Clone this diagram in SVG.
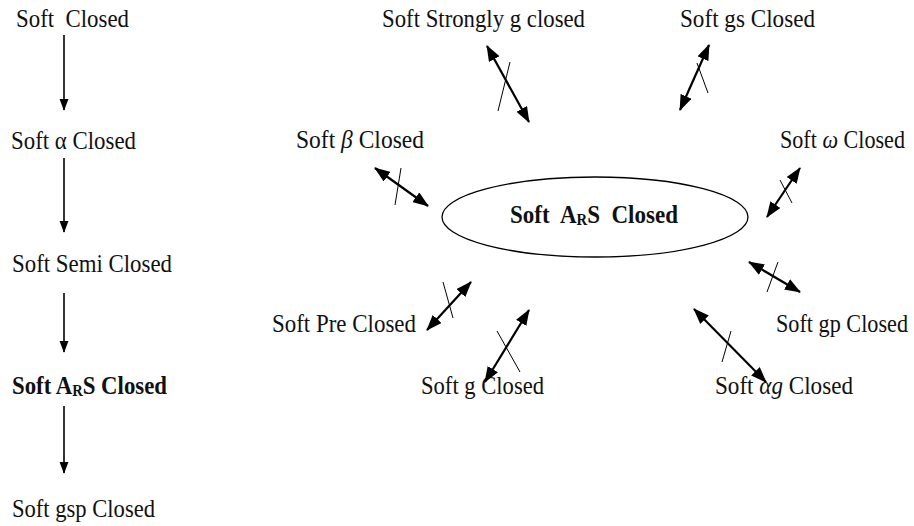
<svg xmlns="http://www.w3.org/2000/svg" width="914" height="526" viewBox="0 0 914 526">
<style>
text{font-family:'Liberation Serif','Times New Roman',serif;font-size:25px;fill:#111}
.b{font-weight:bold}
.m{font-style:italic}
.sub{font-size:16px}
.ar{stroke:#000;stroke-width:2.2;fill:none}
.dn{stroke:#000;stroke-width:1.6;fill:none}
.tk{stroke:#000;stroke-width:1;fill:none}
</style>
<defs>
<marker id="h" markerUnits="userSpaceOnUse" markerWidth="16" markerHeight="12" viewBox="0 0 16 12" refX="15" refY="6" orient="auto-start-reverse">
<path d="M0,0 L16,6 L0,12 z" fill="#000"/>
</marker>
<marker id="d" markerUnits="userSpaceOnUse" markerWidth="12" markerHeight="12" viewBox="0 0 16 12" refX="15" refY="6" orient="auto">
<path d="M0,0 L16,6 L0,12 z" fill="#000"/>
</marker>
</defs>

<g id="n-soft-closed"><text x="16" y="27" xml:space="preserve" textLength="113" lengthAdjust="spacingAndGlyphs">Soft  Closed</text></g>
<g id="n-soft-alpha"><text x="11" y="149" textLength="125" lengthAdjust="spacingAndGlyphs">Soft α Closed</text></g>
<g id="n-soft-semi"><text x="12" y="272" textLength="160" lengthAdjust="spacingAndGlyphs">Soft Semi Closed</text></g>
<g id="n-soft-ars-left"><text x="12" y="394" class="b" textLength="155" lengthAdjust="spacingAndGlyphs">Soft A<tspan class="sub" dy="2">R</tspan><tspan dy="-2">S Closed</tspan></text></g>
<g id="n-soft-gsp"><text x="12" y="517" textLength="143" lengthAdjust="spacingAndGlyphs">Soft gsp Closed</text></g>

<g id="n-center">
<ellipse cx="595" cy="217" rx="153" ry="40" fill="none" stroke="#000" stroke-width="1.3"/>
<text x="510" y="223" class="b" xml:space="preserve" textLength="168" lengthAdjust="spacingAndGlyphs">Soft  A<tspan class="sub" dy="2">R</tspan><tspan dy="-2">S  Closed</tspan></text>
</g>

<g id="n-strongly"><text x="382" y="27" textLength="203" lengthAdjust="spacingAndGlyphs">Soft Strongly g closed</text></g>
<g id="n-gs"><text x="680" y="27" textLength="135" lengthAdjust="spacingAndGlyphs">Soft gs Closed</text></g>
<g id="n-beta"><text x="296" y="148" textLength="128" lengthAdjust="spacingAndGlyphs">Soft <tspan class="m">β</tspan> Closed</text></g>
<g id="n-omega"><text x="780" y="148" textLength="125" lengthAdjust="spacingAndGlyphs">Soft <tspan class="m">ω</tspan> Closed</text></g>
<g id="n-pre"><text x="272" y="332" textLength="144" lengthAdjust="spacingAndGlyphs">Soft Pre Closed</text></g>
<g id="n-gp"><text x="776" y="332" textLength="132" lengthAdjust="spacingAndGlyphs">Soft gp Closed</text></g>
<g id="n-g"><text x="421" y="394" textLength="123" lengthAdjust="spacingAndGlyphs">Soft g Closed</text></g>
<g id="n-alphag"><text x="715" y="394" textLength="138" lengthAdjust="spacingAndGlyphs">Soft <tspan class="m">αg</tspan> Closed</text></g>

<g id="connectors">
<line class="dn" x1="64" y1="35" x2="64" y2="110" marker-end="url(#d)"/>
<line class="dn" x1="64" y1="158" x2="64" y2="232" marker-end="url(#d)"/>
<line class="dn" x1="64" y1="293" x2="64" y2="352" marker-end="url(#d)"/>
<line class="dn" x1="64" y1="406" x2="64" y2="473" marker-end="url(#d)"/>

<line class="ar" x1="487" y1="46" x2="529" y2="122" marker-start="url(#h)" marker-end="url(#h)"/>
<line class="tk" x1="510" y1="62" x2="498" y2="111"/>

<line class="ar" x1="680" y1="110" x2="709" y2="45" marker-start="url(#h)" marker-end="url(#h)"/>
<line class="tk" x1="697" y1="63" x2="708" y2="93"/>

<line class="ar" x1="375" y1="168" x2="428" y2="206" marker-start="url(#h)" marker-end="url(#h)"/>
<line class="tk" x1="401" y1="168" x2="395" y2="205"/>

<line class="ar" x1="767" y1="217" x2="800" y2="168" marker-start="url(#h)" marker-end="url(#h)"/>
<line class="tk" x1="780" y1="180" x2="792" y2="203"/>

<line class="ar" x1="427" y1="330" x2="471" y2="282" marker-start="url(#h)" marker-end="url(#h)"/>
<line class="tk" x1="443" y1="282" x2="453" y2="318"/>

<line class="ar" x1="485" y1="382" x2="529" y2="310" marker-start="url(#h)" marker-end="url(#h)"/>
<line class="tk" x1="497" y1="331" x2="520" y2="372"/>

<line class="ar" x1="749" y1="262" x2="800" y2="292" marker-start="url(#h)" marker-end="url(#h)"/>
<line class="tk" x1="778" y1="262" x2="767" y2="292"/>

<line class="ar" x1="694" y1="309" x2="766" y2="382" marker-start="url(#h)" marker-end="url(#h)"/>
<line class="tk" x1="731" y1="331" x2="722" y2="362"/>
</g>
</svg>
